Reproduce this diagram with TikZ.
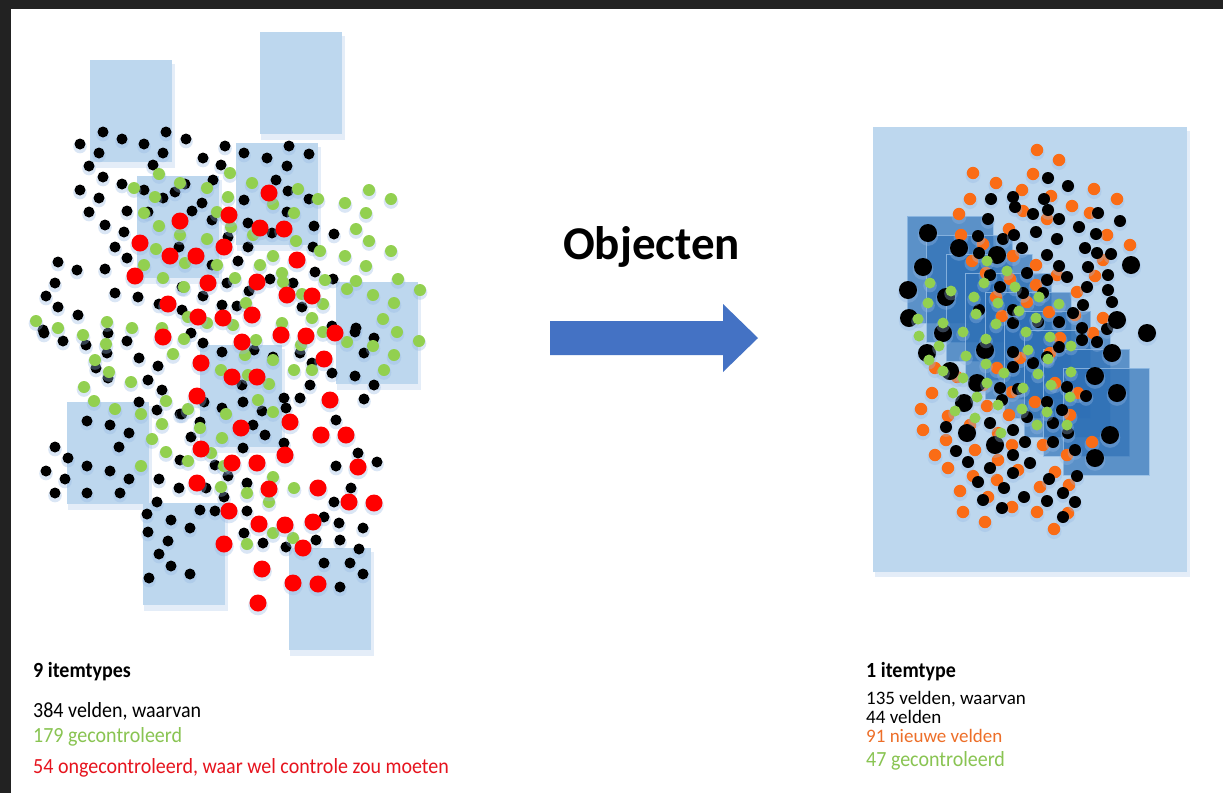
\documentclass[tikz,border=0pt]{standalone}
\usepackage{fontspec}
\usepackage{graphicx}
\setmainfont{Carlito}
\definecolor{lblue}{RGB}{189,215,238}
\definecolor{dshad}{RGB}{150,185,228}
\definecolor{dgreen}{RGB}{146,208,80}
\definecolor{dred}{RGB}{255,0,0}
\definecolor{dorange}{RGB}{250,108,22}
\definecolor{tgreen}{RGB}{137,196,82}
\definecolor{tred}{RGB}{230,20,30}
\definecolor{torange}{RGB}{237,110,40}
\definecolor{arrowblue}{RGB}{68,114,196}
\definecolor{cascade}{RGB}{46,112,182}
\definecolor{cascline}{RGB}{150,190,230}
\definecolor{frame}{RGB}{34,34,34}
\newcommand\tallt[1]{\scalebox{1}[1.08]{#1}}
\newcommand\dotlayer[3]{%
  \foreach \x/\y in {#3}{%
    \fill[dshadow] (\x,\y+2.5) circle[radius=#2+1.3pt];
    \fill[#1] (\x,\y) circle[radius=#2];
  }}
\begin{document}
\begin{tikzpicture}[x=1pt,y=-1pt,
  lrect/.style={fill=lblue},
  rshadow/.style={fill=dshad,opacity=.25},
  dshadow/.style={fill=dshad,opacity=.35},
  blk/.style={fill=black},
  grn/.style={fill=dgreen},
  rd/.style={fill=dred},
  org/.style={fill=dorange},
  casc/.style={fill=cascade,fill opacity=.68,draw=cascline,draw opacity=.8,line width=.7pt},
  lbl/.style={anchor=base west,inner sep=0pt,font=\fontsize{20}{22}\selectfont},
  lblb/.style={anchor=base west,inner sep=0pt,font=\bfseries\fontsize{20}{22}\selectfont},
  tight/.style={font=\fontsize{19}{21}\selectfont,text height=12pt,text depth=0pt}]
\useasboundingbox (0,0) rectangle (1223,793);
\fill[white] (0,0) rectangle (1223,793);
\fill[frame] (0,0) rectangle (1223,9);
\fill[frame] (0,0) rectangle (11,793);

% ---------- left: item type rectangles
\foreach \a/\b in {90/60,260/32,236/143,137/176,336/282,67/402,143/503,289/548,200/345}{
  \fill[rshadow] (\a+1,\b+4) rectangle +(84,104);
  \fill[lrect] (\a,\b) rectangle +(82,102);
}

% ---------- left: dots
\dotlayer{blk}{5.5pt}{103/132,80/144,122/139,144/144,166/132,186/139,99/153,163/153,225/146,244/153,267/158,289/146,309/154,203/158,153/165,89/166,221/165,287/166,103/177,80/190,99/198,122/184,144/190,163/198,175/192,213/180,185/184,276/180,244/200,202/203,288/191,309/199,287/212,89/212,127/211,105/225,148/212,192/211,212/220,248/223,272/233,314/226,334/234,124/232,115/247,127/258,179/247,228/237,248/247,238/261,313/247,58/262,77/270,105/269,55/283,115/293,138/297,46/296,58/307,78/315,182/287,203/296,212/265,227/283,249/291,270/279,293/283,315/272,333/279,159/304,182/310,222/305,237/306,302/307,332/326,356/328,43/330,44/333,63/341,86/345,108/333,107/353,127/341,139/358,158/366,148/380,96/368,108/378,162/390,139/402,157/410,180/414,191/333,203/343,222/352,254/350,273/357,300/353,312/363,332/373,355/332,374/338,364/353,355/376,374/385,364/399,310/385,284/398,300/398,242/385,243/402,222/408,262/411,204/402,200/422,191/437,253/425,265/435,243/448,284/443,336/420,358/453,377/462,336/466,351/488,334/502,324/517,339/523,363/528,340/540,359/549,316/540,324/563,350/563,363/574,340/587,286/547,263/543,244/533,247/511,247/483,215/465,228/476,206/488,180/460,179/488,159/479,157/502,200/510,215/511,224/497,147/514,171/520,190/528,148/532,168/541,159/554,171/566,149/578,190/574,55/447,68/458,87/421,110/425,129/433,119/447,87/466,110/471,46/471,65/479,129/479,55/493,87/493,120/493,286/408,182/414}
\dotlayer{grn}{6pt}{159/174,180/183,134/188,155/197,207/188,230/173,228/197,252/183,273/204,298/189,318/199,345/203,369/190,391/199,366/213,356/229,369/241,391/251,345/256,366/266,356/281,398/279,373/295,394/303,420/290,383/319,144/213,159/226,180/235,207/239,217/212,231/227,253/235,294/213,296/241,320/251,273/256,260/265,235/278,217/265,185/263,156/249,144/265,163/278,184/287,282/273,283/282,302/294,325/280,323/304,312/318,347/289,246/303,282/323,107/322,36/321,58/328,132/328,162/328,188/317,207/323,233/325,83/335,106/344,184/339,173/354,95/360,109/372,131/382,84/387,94/401,115/409,141/414,166/401,162/424,152/439,166/452,141/466,188/409,200/428,226/414,222/438,188/461,211/453,224/466,221/487,247/493,269/502,273/477,294/488,258/400,273/412,269/384,256/340,245/355,221/370,248/375,273/360,294/370,312/370,301/345,323/332,347/342,373/346,397/332,419/341,394/355,384/370,273/533,247/544,293/538}
\dotlayer{rd}{8.5pt}{269/193,180/221,229/215,140/243,260/228,284/229,170/256,196/256,224/247,297/260,135/276,208/283,257/282,287/295,312/296,168/304,198/317,223/318,252/315,163/337,242/342,281/335,306/336,335/333,324/359,201/363,232/377,257/377,197/396,330/400,290/422,241/428,321/435,346/435,201/449,285/455,232/463,257/463,358/467,197/483,269/489,318/488,349/502,374/503,229/511,259/524,285/525,313/522,224/544,303/548,262/569,293/583,318/584,258/603}

% ---------- arrow and title
\fill[arrowblue] (550,321) -- (723,321) -- (723,304) -- (758,338) -- (723,372) -- (723,355) -- (550,355) -- cycle;
\node[anchor=base west,font=\bfseries\fontsize{47}{50}\selectfont,inner sep=0pt] (title) at (563,259) {Objecten};

% ---------- right panel
\fill[rshadow] (875,131) rectangle (1190,577);
\fill[lblue] (873,127) rectangle (1187,572);
\foreach \i in {0,...,8}{
  \filldraw[casc] ({907+19.5*\i},{216+19*\i}) rectangle +(86,107);
}
\dotlayer{org}{6.2pt}{1037/150,1059/160,973/173,1033/174,996/183,1022/190,1094/189,1117/199,970/199,1051/196,1072/206,959/214,1023/211,1090/213,1047/219,1009/229,961/235,1107/235,1130/245,983/244,1013/256,972/261,1036/265,1103/260,1057/275,1095/276,986/273,1010/279,1036/285,1077/292,1049/312,996/297,1027/302,1075/315,1103/318,1002/316,1093/333,1060/338,1020/358,1050/353,997/368,935/368,957/377,983/385,1055/383,1012/392,932/393,921/409,1035/402,987/406,1009/415,1078/393,1070/415,948/416,923/430,970/425,998/433,1012/445,1043/445,1092/442,946/440,935/455,975/450,1067/455,998/460,948/468,973/476,1018/470,1055/472,997/480,1040/487,960/491,1069/485,988/497,1012/507,1037/512,963/512,1068/513,985/522,1054/529}
\dotlayer{blk}{6pt}{1048/178,1068/186,991/199,1013/197,1044/199,1015/207,1033/214,1048/210,1059/219,1098/213,1120/221,988/219,978/236,1003/239,1014/235,1036/232,1057/239,1079/227,1096/234,1022/248,979/253,1047/255,1085/248,1097/253,1111/254,1059/266,1088/267,1027/273,990/275,1108/275,1067/277,1047/280,1087/287,1000/287,1023/293,1043/293,1108/290,1112/302,1083/305,1059/322,1013/310,979/310,1073/313,1082/328,1107/329,1013/323,1038/322,1082/340,1097/342,1059/347,1013/352,1033/363,1013/367,1047/357,1000/388,1018/389,1067/387,1086/396,1002/400,1047/402,1062/410,1027/417,946/427,1013/430,1053/423,1068/433,990/423,1025/442,956/451,1053/442,1075/450,1013/455,968/462,1030/463,990/468,1013/473,1077/476,978/482,1049/479,1004/488,1024/497,1063/493,983/500,1047/501,1002/508,1075/502,1063/517}
\dotlayer{blk}{9pt}{928/233,959/248,997/255,1131/265,923/267,908/290,946/297,909/318,943/333,1117/320,1147/333,985/350,927/353,950/371,1112/353,1095/376,977/383,964/403,1117/393,967/433,1110/435,995/445,1095/458}
\dotlayer{grn}{5.5pt}{987/261,1007/271,984/283,1015/287,930/283,951/291,974/297,998/303,1039/297,1059/304,1019/311,1036/318,928/303,918/319,976/314,996/324,943/323,963/332,1026/332,1050/337,1071/346,919/336,939/346,986/339,1028/350,966/356,929/360,986/364,1048/359,1004/373,1038/374,1071/372,943/371,963/378,987/383,1023/388,1051/385,953/393,977/397,1070/397,998/405,1022/409,1047/412,955/411,975/418,1037/425,1067/425,1001/433}

% ---------- captions
\node[lblb] (l1) at (33,677) {\tallt{9 itemtypes}};
\node[lbl] (l2) at (33,717) {\tallt{384 velden, waarvan}};
\node[lbl,text=tgreen] (l3) at (33,742) {\tallt{179 gecontroleerd}};
\node[lbl,text=tred] (l4) at (33,773) {\tallt{54 ongecontroleerd, waar wel controle zou moeten}};
\node[lblb] (r1) at (866,677) {\tallt{1 itemtype}};
\node[lbl,tight] (r2) at (866,704) {135 velden, waarvan};
\node[lbl,tight] (r3) at (866,723) {44 velden};
\node[lbl,tight] (r4) at (866,742) {\textcolor{torange}{91 nieuwe velden}};
\node[lbl,text=tgreen] (r5) at (866,766) {\tallt{47 gecontroleerd}};
\end{tikzpicture}
\end{document}
